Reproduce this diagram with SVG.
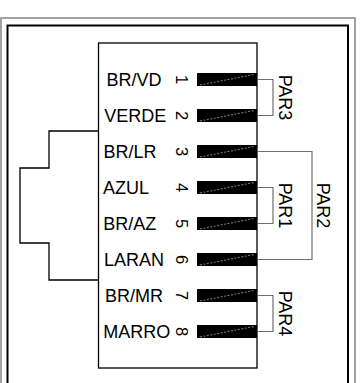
<svg xmlns="http://www.w3.org/2000/svg" width="361" height="383" viewBox="0 0 361 383">
<style>
.lbl{font-family:"Liberation Sans",Arial,sans-serif;font-size:18px;fill:#000}
.num{font-family:"Liberation Sans",Arial,sans-serif;font-size:16.5px;fill:#000;text-anchor:middle}
.par{font-family:"Liberation Sans",Arial,sans-serif;font-size:18px;fill:#000;text-anchor:middle}
.pin{fill:#000}
.dash{stroke:#7a7a7a;stroke-width:1.1;stroke-dasharray:2 1.5;fill:none}
.br{stroke:#6e6e6e;stroke-width:1.2;fill:none}
</style>
<rect width="361" height="383" fill="#fff"/>
<g id="frame">
<rect x="1" y="18" width="354" height="380" fill="none" stroke="#8c8c8c" stroke-width="1.6"/>
<rect x="7.5" y="25.5" width="340.5" height="370" fill="none" stroke="#000" stroke-width="2"/>
</g>
<g id="connector-body">
<rect x="98.5" y="43" width="158.5" height="325" fill="none" stroke="#000" stroke-width="1.3"/>
<path d="M98.5,131 H49 V168 H20 V243 H49 V280 H98.5" fill="none" stroke="#000" stroke-width="1.3"/>
</g>
<g id="pin1"><rect class="pin" x="197" y="73" width="60" height="13"/><path class="dash" d="M200,85 L254,74.5"/><text class="lbl" x="106.5" y="86">BR/VD</text><text class="num" transform="translate(175.5,79.5) rotate(90)">1</text></g>
<g id="pin2"><rect class="pin" x="197" y="109" width="60" height="13"/><path class="dash" d="M200,121 L254,110.5"/><text class="lbl" x="104.3" y="122">VERDE</text><text class="num" transform="translate(175.5,115.5) rotate(90)">2</text></g>
<g id="pin3"><rect class="pin" x="197" y="145" width="60" height="13"/><path class="dash" d="M200,157 L254,146.5"/><text class="lbl" x="103.5" y="158">BR/LR</text><text class="num" transform="translate(175.5,151.5) rotate(90)">3</text></g>
<g id="pin4"><rect class="pin" x="197" y="181" width="60" height="13"/><path class="dash" d="M200,193 L254,182.5"/><text class="lbl" x="103" y="194">AZUL</text><text class="num" transform="translate(175.5,187.5) rotate(90)">4</text></g>
<g id="pin5"><rect class="pin" x="197" y="217" width="60" height="13"/><path class="dash" d="M200,229 L254,218.5"/><text class="lbl" x="103.3" y="230">BR/AZ</text><text class="num" transform="translate(175.5,223.5) rotate(90)">5</text></g>
<g id="pin6"><rect class="pin" x="197" y="253" width="60" height="13"/><path class="dash" d="M200,265 L254,254.5"/><text class="lbl" x="104" y="266">LARAN</text><text class="num" transform="translate(175.5,259.5) rotate(90)">6</text></g>
<g id="pin7"><rect class="pin" x="197" y="289" width="60" height="13"/><path class="dash" d="M200,301 L254,290.5"/><text class="lbl" x="105" y="302">BR/MR</text><text class="num" transform="translate(175.5,295.5) rotate(90)">7</text></g>
<g id="pin8"><rect class="pin" x="197" y="325" width="60" height="13"/><path class="dash" d="M200,337 L254,326.5"/><text class="lbl" x="103.3" y="338">MARRO</text><text class="num" transform="translate(175.5,331.5) rotate(90)">8</text></g>
<g id="connectors">
<path class="br" d="M257,79.5 H273 V115.5 H257"/>
<path class="br" d="M257,187.5 H273 V223.5 H257"/>
<path class="br" d="M257,151.5 H312 V259.5 H257"/>
<path class="br" d="M257,295.5 H273 V331.5 H257"/>
</g>
<g id="par3"><text class="par" transform="translate(279,97.5) rotate(90)">PAR3</text></g>
<g id="par1"><text class="par" transform="translate(279,205.5) rotate(90)">PAR1</text></g>
<g id="par2"><text class="par" transform="translate(317,205.5) rotate(90)">PAR2</text></g>
<g id="par4"><text class="par" transform="translate(279,313.5) rotate(90)">PAR4</text></g>
</svg>
